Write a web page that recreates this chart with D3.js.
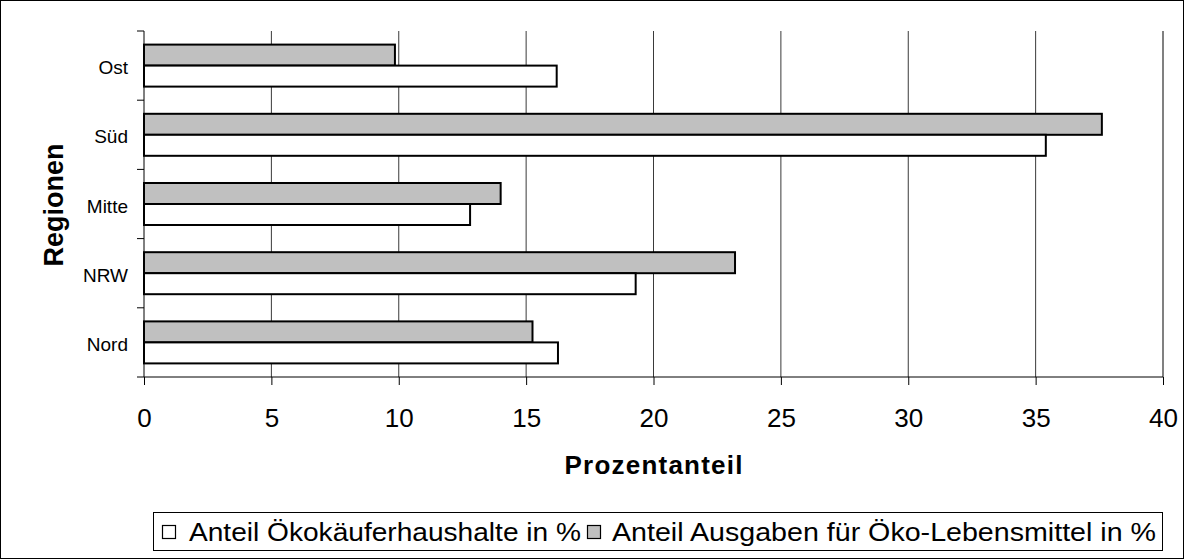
<!DOCTYPE html>
<html><head><meta charset="utf-8">
<script src="https://cdn.jsdelivr.net/npm/d3@7"></script>
<style>
body{margin:0;background:#fff;}
svg text{font-family:"Liberation Sans",Arial,sans-serif;fill:#000;}
</style></head>
<body><svg id="c" width="1184" height="559"></svg>
<script>
const categories = ["Ost","Süd","Mitte","NRW","Nord"];
const seriesNames = ["Anteil Ausgaben für Öko-Lebensmittel in %","Anteil Ökokäuferhaushalte in %"];
const ausgaben = [9.85, 37.6, 14.0, 23.2, 15.25];
const haushalte = [16.2, 35.4, 12.8, 19.3, 16.25];
const xTicks = [0,5,10,15,20,25,30,35,40];
const colors = ["#c0c0c0","#ffffff"];

const svg = d3.select("#c");
svg.append("rect").attr("x",0.5).attr("y",0.5).attr("width",1183).attr("height",558)
  .attr("fill","#fff").attr("stroke","#000").attr("stroke-width",1);

const L=144, R=1163, T=31, B=377;
const x = d3.scaleLinear().domain([0,40]).range([L,R]);
const y = d3.scaleBand().domain(categories).range([T,B]).paddingInner(0.393).paddingOuter(0.1965);
const yi = d3.scaleBand().domain([0,1]).range([0,y.bandwidth()]);

// gridlines
svg.append("g").selectAll("line").data(xTicks.filter(d=>d>0)).join("line")
  .attr("x1",d=>x(d)).attr("x2",d=>x(d)).attr("y1",T).attr("y2",B)
  .attr("stroke",d=>d===40?"#808080":"#3a3a3a").attr("stroke-width",d=>d===40?2:1);

// bars
const series=[ausgaben,haushalte];
categories.forEach((c,i)=>{
  series.forEach((s,j)=>{
    svg.append("rect").attr("x",x(0)).attr("y",y(c)+yi(j))
      .attr("width",x(s[i])-x(0)).attr("height",yi.bandwidth())
      .attr("fill",colors[j]).attr("stroke","#000").attr("stroke-width",2);
  });
});

// x axis
const xa = svg.append("g").attr("transform",`translate(0,${B})`)
  .call(d3.axisBottom(x).tickValues(xTicks).tickSize(8).tickPadding(0).tickFormat(d3.format("d")));
xa.select(".domain").attr("stroke","#000").attr("d",`M${L},0H${R}`);
xa.selectAll(".tick line").attr("stroke","#000");
xa.selectAll("text").attr("font-size",26).attr("dy",null).attr("y",50)
  .style("font-family","Liberation Sans, Arial");

// y axis
const ya = svg.append("g").attr("transform",`translate(${L},0)`)
  .call(d3.axisLeft(y).tickSize(0).tickPadding(16));
ya.select(".domain").attr("stroke","#000").attr("d",`M0,${T}V${B}`);
ya.selectAll("text").attr("font-size",19).attr("dy","0.45em").style("font-family","Liberation Sans, Arial");
// category boundary ticks
const step = (B-T)/categories.length;
const bounds = d3.range(categories.length+1).map(i=>T+i*step);
svg.append("g").selectAll("line").data(bounds).join("line")
  .attr("x1",L-7).attr("x2",L).attr("y1",d=>d).attr("y2",d=>d).attr("stroke","#000");

// axis titles
svg.append("text").attr("x",(L+R)/2).attr("y",474).attr("text-anchor","middle")
  .attr("font-size",26).attr("font-weight","bold")
  .attr("textLength",178).attr("lengthAdjust","spacing").text("Prozentanteil");
svg.append("text").attr("transform",`translate(62.5,205) rotate(-90)`).attr("text-anchor","middle")
  .attr("font-size",27).attr("font-weight","bold").text("Regionen");

// legend
const lg = svg.append("g");
lg.append("rect").attr("x",153.5).attr("y",512.5).attr("width",1009).attr("height",38)
  .attr("fill","#fff").attr("stroke","#000");
const legendItems=[
  {name:seriesNames[1],color:colors[1],sx:162,tx:189,tw:392},
  {name:seriesNames[0],color:colors[0],sx:587,tx:612,tw:544}];
legendItems.forEach(it=>{
  lg.append("rect").attr("x",it.sx+0.5).attr("y",525.5).attr("width",13).attr("height",13)
    .attr("fill",it.color).attr("stroke","#000").attr("stroke-width",1.2);
  lg.append("text").attr("x",it.tx).attr("y",541).attr("font-size",25)
    .attr("textLength",it.tw).attr("lengthAdjust","spacingAndGlyphs").text(it.name);
});
</script></body></html>
